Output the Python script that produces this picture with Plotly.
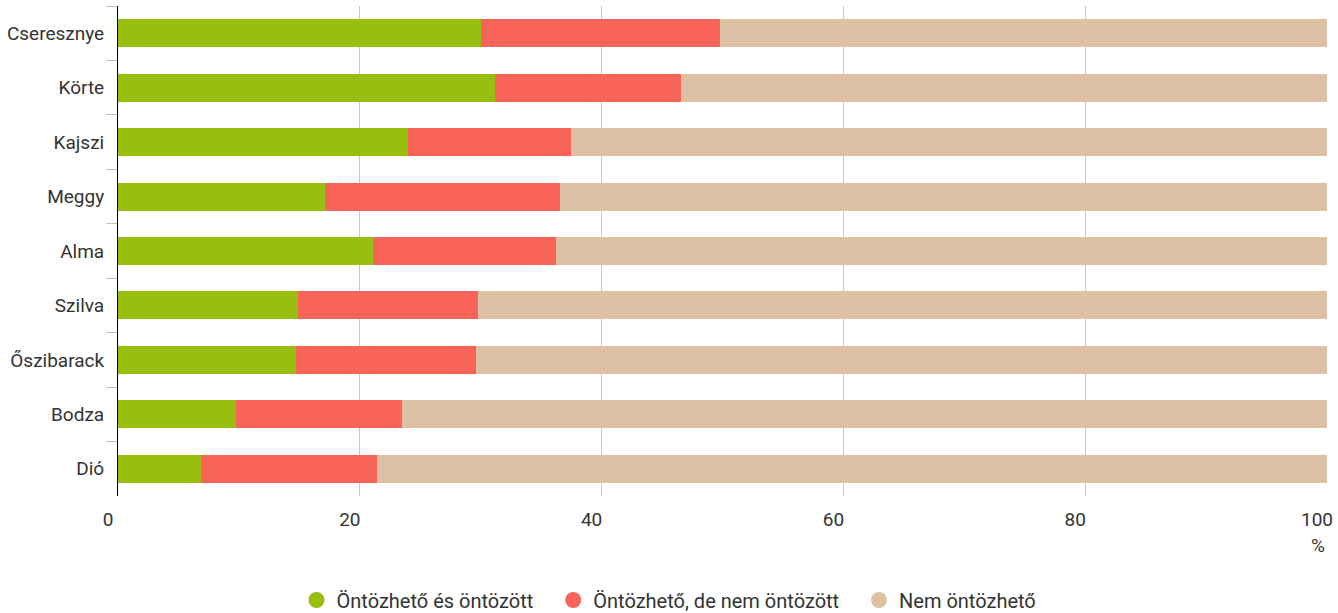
import plotly.graph_objects as go

categories = ["Cseresznye", "Körte", "Kajszi", "Meggy", "Alma", "Szilva", "Őszibarack", "Bodza", "Dió"]
irrigated = [30.0, 31.2, 24.0, 17.1, 21.1, 14.9, 14.7, 9.8, 6.9]
irrigable_not = [19.8, 15.4, 13.5, 19.5, 15.1, 14.9, 14.9, 13.7, 14.5]
not_irrigable = [round(100 - a - b, 1) for a, b in zip(irrigated, irrigable_not)]

series_names = ["Öntözhető és öntözött", "Öntözhető, de nem öntözött", "Nem öntözhető"]
series_values = [irrigated, irrigable_not, not_irrigable]
colors = ["#98BE0E", "#F86558", "#DEC0A5"]

x_ticks = [0, 20, 40, 60, 80, 100]

fig = go.Figure()
for name, vals, col in zip(series_names, series_values, colors):
    fig.add_trace(go.Bar(
        y=categories, x=vals, orientation="h", name=name,
        marker=dict(color=col, line=dict(width=0)),
        showlegend=False, hovertemplate="%{y}: %{x}%<extra>" + name + "</extra>",
    ))
pad = "\u00a0\u00a0\u00a0"
for i, (name, col) in enumerate(zip(series_names, colors)):
    fig.add_trace(go.Scatter(
        x=[None], y=[None], mode="markers",
        name=name + (pad if i < len(series_names) - 1 else ""),
        marker=dict(symbol="circle", size=16, color=col),
    ))

fig.update_layout(
    barmode="stack",
    bargap=0.485,
    width=1338, height=613,
    margin=dict(l=118, r=11, t=6, b=117),
    paper_bgcolor="white", plot_bgcolor="white",
    font=dict(family="Roboto", size=19, color="#333333"),
    legend=dict(orientation="h", x=0.5, xanchor="center", xref="container",
                y=0.0212, yanchor="middle", yref="container",
                font=dict(size=20, color="#333333"), itemsizing="trace",
                traceorder="normal", itemwidth=30, tracegroupgap=0),
    xaxis=dict(range=[0, 100], tickvals=x_ticks, showgrid=True, gridcolor="#c8c8c8",
               gridwidth=1, zeroline=False, showline=False, ticks="",
               ticklabelshift=-10, ticklabelstandoff=10, fixedrange=True,
               automargin=False),
    yaxis=dict(categoryorder="array", categoryarray=categories, autorange="reversed",
               showline=True, linecolor="#000000", linewidth=1,
               ticks="outside", tickson="boundaries", ticklen=11, tickcolor="#c0c0c0",
               showgrid=False, ticklabelstandoff=9, automargin=False),
    annotations=[dict(text="%", xref="paper", yref="paper", x=1, y=-0.073, xanchor="right",
                      yanchor="top", showarrow=False, font=dict(size=19, color="#333333"))],
)

fig.write_html("out.html", config={"displayModeBar": False},
               post_script="document.body.style.margin='0px';document.body.style.overflow='hidden';")
